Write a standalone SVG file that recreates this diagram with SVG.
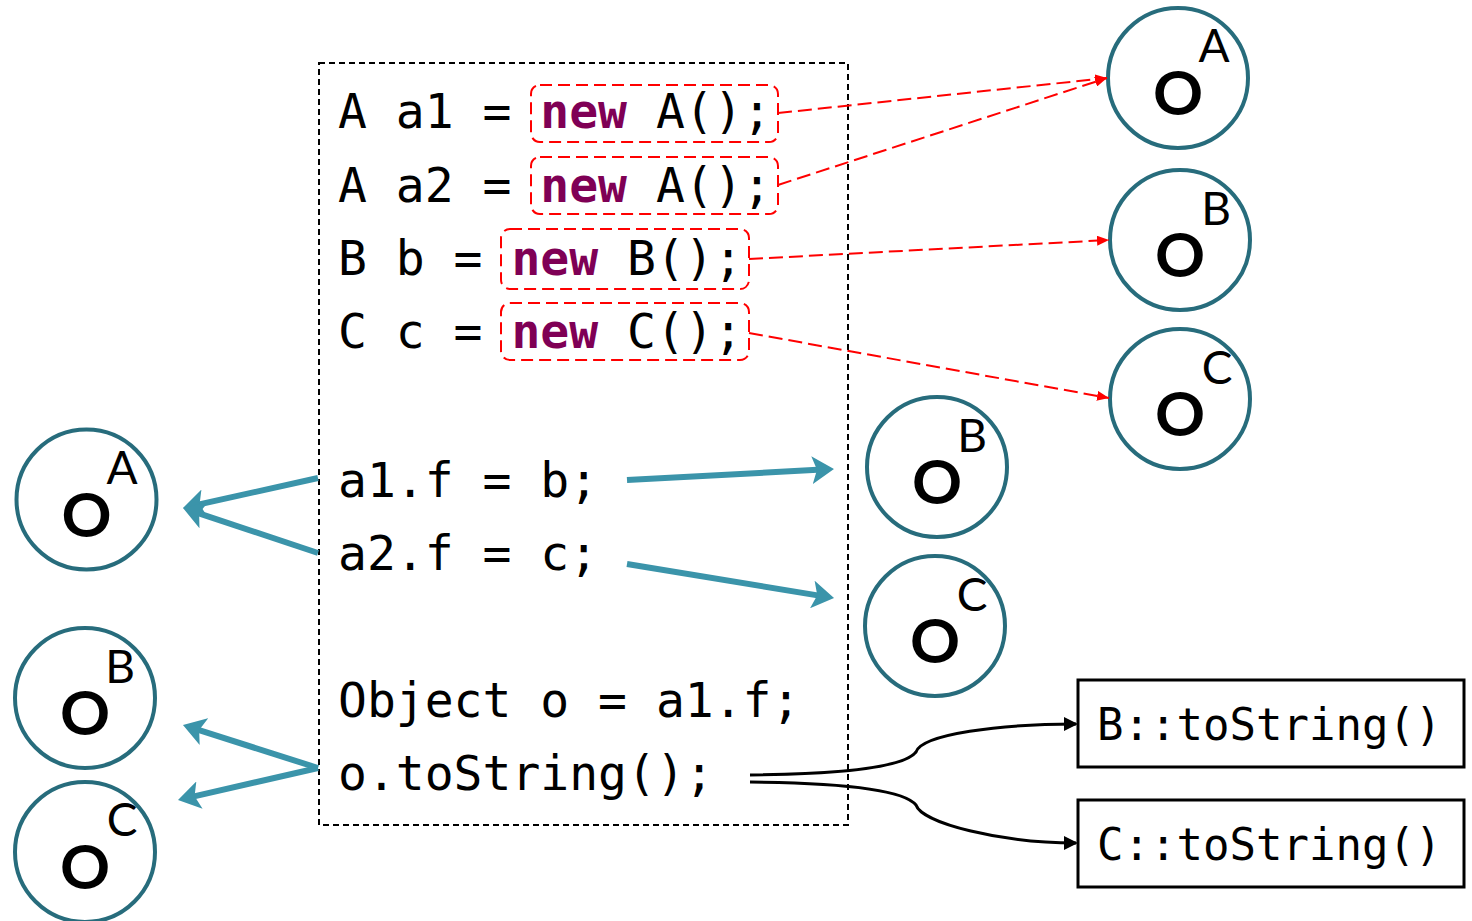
<svg xmlns="http://www.w3.org/2000/svg" width="1472" height="921" viewBox="0 0 1472 921">
  <style>
    .code { font-family: "DejaVu Sans Mono", "Liberation Mono", monospace; font-size: 48px; fill: #000; }
    .kw { font-weight: bold; fill: #7F0055; }
    .meth { font-family: "DejaVu Sans Mono", "Liberation Mono", monospace; font-size: 44px; fill: #000; }
    .obj circle { fill: #fff; stroke: #276C7C; stroke-width: 4; }
    .obj .o { font-family: Lato, "DejaVu Sans", sans-serif; font-weight: 700; font-size: 62px; fill: #000; text-anchor: middle; }
    .obj .t { font-family: Lato, "DejaVu Sans", sans-serif; font-weight: 400; font-size: 46px; fill: #000; text-anchor: middle; }
    .alloc { fill: none; stroke: #FF0000; stroke-width: 2; stroke-dasharray: 12 6; }
    .new-edge { fill: none; stroke: #FF0000; stroke-width: 2; stroke-dasharray: 14 6; marker-end: url(#redHead); }
    .pt-edge { fill: none; stroke: #3B94AA; stroke-width: 6; marker-end: url(#tealHead); }
    .call-edge { fill: none; stroke: #000; stroke-width: 3; marker-end: url(#blackHead); }
    .frame { fill: none; stroke: #000; stroke-width: 2; stroke-dasharray: 6 4; }
    .mbox { fill: #fff; stroke: #000; stroke-width: 3; }
  </style>
  <defs>
    <marker id="redHead" viewBox="0 0 12 10" refX="12" refY="5" markerWidth="12" markerHeight="10" markerUnits="userSpaceOnUse" orient="auto">
      <path d="M0,0 L12,5 L0,10 Z" fill="#FF0000"/>
    </marker>
    <marker id="tealHead" viewBox="0 0 22 28" refX="10" refY="14" markerWidth="22" markerHeight="28" markerUnits="userSpaceOnUse" orient="auto">
      <path d="M0,0 L22,14 L0,28 L5,14 Z" fill="#3B94AA"/>
    </marker>
    <marker id="blackHead" viewBox="0 0 14 14" refX="12" refY="7" markerWidth="14" markerHeight="14" markerUnits="userSpaceOnUse" orient="auto">
      <path d="M0,0 L14,7 L0,14 Z" fill="#000"/>
    </marker>
  </defs>

  <rect width="1472" height="921" fill="#fff"/>

  <!-- program text -->
  <g id="program">
    <rect class="frame" x="319" y="63" width="529" height="762"/>
    <rect class="alloc" x="531" y="85" width="247" height="57" rx="9"/>
    <rect class="alloc" x="531" y="157" width="247" height="57" rx="9"/>
    <rect class="alloc" x="501" y="229" width="248" height="60" rx="9"/>
    <rect class="alloc" x="501" y="303" width="248" height="57" rx="9"/>
    <text class="code" x="338" y="128">A a1 = <tspan class="kw">new</tspan> A();</text>
    <text class="code" x="338" y="202">A a2 = <tspan class="kw">new</tspan> A();</text>
    <text class="code" x="338" y="275">B b = <tspan class="kw">new</tspan> B();</text>
    <text class="code" x="338" y="348">C c = <tspan class="kw">new</tspan> C();</text>
    <text class="code" x="338" y="497">a1.f = b;</text>
    <text class="code" x="338" y="570">a2.f = c;</text>
    <text class="code" x="338" y="717">Object o = a1.f;</text>
    <text class="code" x="338" y="790">o.toString();</text>
  </g>

  <!-- heap objects -->
  <g id="heapA" class="obj">
    <circle cx="1178" cy="78" r="70"/>
    <text class="o" x="1178" y="115">O</text>
    <text class="t" x="1214" y="62">A</text>
  </g>
  <g id="heapB" class="obj">
    <circle cx="1180" cy="240" r="70"/>
    <text class="o" x="1180" y="277">O</text>
    <text class="t" x="1216" y="225">B</text>
  </g>
  <g id="heapC" class="obj">
    <circle cx="1180" cy="399" r="70"/>
    <text class="o" x="1180" y="436">O</text>
    <text class="t" x="1217" y="384">C</text>
  </g>
  <g id="fieldB" class="obj">
    <circle cx="937" cy="467" r="70"/>
    <text class="o" x="937" y="504">O</text>
    <text class="t" x="972" y="452">B</text>
  </g>
  <g id="fieldC" class="obj">
    <circle cx="935" cy="626" r="70"/>
    <text class="o" x="935" y="663">O</text>
    <text class="t" x="972" y="611">C</text>
  </g>
  <g id="baseA" class="obj">
    <circle cx="86.5" cy="499.5" r="70"/>
    <text class="o" x="86.5" y="537">O</text>
    <text class="t" x="122" y="484">A</text>
  </g>
  <g id="targetB" class="obj">
    <circle cx="85" cy="698" r="70"/>
    <text class="o" x="85" y="735">O</text>
    <text class="t" x="120" y="683">B</text>
  </g>
  <g id="targetC" class="obj">
    <circle cx="85" cy="852" r="70"/>
    <text class="o" x="85" y="889">O</text>
    <text class="t" x="122" y="836">C</text>
  </g>

  <!-- dispatch targets -->
  <g id="bToString">
    <rect class="mbox" x="1078" y="680" width="386" height="87"/>
    <text class="meth" x="1097" y="740">B::toString()</text>
  </g>
  <g id="cToString">
    <rect class="mbox" x="1078" y="800" width="386" height="87"/>
    <text class="meth" x="1097" y="860">C::toString()</text>
  </g>

  <!-- connectors -->
  <g id="connectors">
    <path class="new-edge" d="M778,113 L1107,78"/>
    <path class="new-edge" d="M778,185 L1107,78"/>
    <path class="new-edge" d="M749,259 L1109,240"/>
    <path class="new-edge" d="M749,333 L1109,398"/>

    <path class="pt-edge" d="M318,478 L194.7,505.4"/>
    <path class="pt-edge" d="M318,553 L194.4,511.8"/>
    <path class="pt-edge" d="M627,480 L822,469.6"/>
    <path class="pt-edge" d="M627,564 L822.2,596.1"/>
    <path class="pt-edge" d="M318,768 L194.4,728.6"/>
    <path class="pt-edge" d="M318,768 L189.7,797.3"/>

    <path class="call-edge" d="M750,775 C850,774 905,766 916,752 C922,734 1000,724 1076,724"/>
    <path class="call-edge" d="M750,782 C850,783 905,791 916,805 C922,823 1000,843 1076,843"/>
  </g>
</svg>
